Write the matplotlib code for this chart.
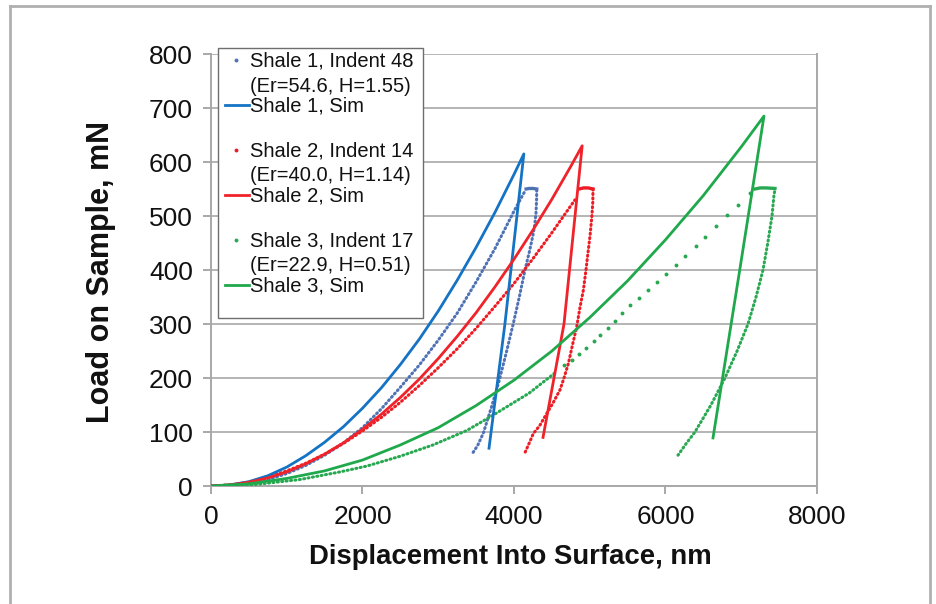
import matplotlib
matplotlib.use('Agg')
import matplotlib.pyplot as plt
from matplotlib.lines import Line2D
from matplotlib.patches import Rectangle

plt.rcParams['font.family'] = ['Liberation Sans', 'DejaVu Sans']

# ---------------- data ----------------
# Shale 1
s1_sim_load_x = [0, 250, 500, 750, 1000, 1250, 1500, 1750, 2000, 2250, 2500, 2750, 3000,
                 3250, 3500, 3750, 4000, 4130]
s1_sim_load_y = [0, 2, 8, 19, 35, 56, 81, 110, 144, 182, 225, 272, 324,
                 381, 442, 507, 577, 615]
s1_sim_unload_x = [4130, 3880, 3670]
s1_sim_unload_y = [615, 300, 70]
s1_exp_load_x = [0, 250, 500, 750, 1000, 1250, 1500, 1750, 2000, 2250, 2500, 2750, 3000,
                 3250, 3500, 3750, 4000, 4140]
s1_exp_load_y = [0, 1, 5, 12, 23, 38, 57, 80, 108, 143, 183, 224, 270,
                 320, 378, 440, 509, 545]
s1_exp_hold_x = [4160, 4200, 4250, 4300]
s1_exp_hold_y = [550, 551, 551, 550]
s1_exp_unload_x = [4300, 4298, 4290, 4275, 4251, 4205, 4145, 4070, 3991, 3900, 3806, 3700,
                   3595, 3520, 3450]
s1_exp_unload_y = [548, 530, 505, 485, 465, 435, 400, 350, 301, 248, 196, 145,
                   98, 75, 60]

# Shale 2
s2_sim_load_x = [0, 250, 500, 750, 1000, 1250, 1500, 1750, 2000, 2250, 2500, 2750, 3000,
                 3250, 3500, 3750, 4000, 4250, 4500, 4750, 4900]
s2_sim_load_y = [0, 2, 7, 15, 26, 41, 59, 80, 105, 133, 164, 198, 236,
                 277, 321, 369, 420, 474, 531, 592, 630]
s2_sim_unload_x = [4900, 4660, 4383]
s2_sim_unload_y = [630, 300, 90]
s2_exp_load_x = [0, 250, 500, 750, 1000, 1250, 1500, 1750, 2000, 2250, 2500, 2750, 3000,
                 3250, 3500, 3750, 4000, 4250, 4500, 4805]
s2_exp_load_y = [0, 2, 7, 16, 28, 42, 59, 79, 102, 127, 155, 186, 219,
                 254, 292, 333, 375, 421, 469, 530]
s2_exp_hold_x = [4860, 4920, 4980, 5043]
s2_exp_hold_y = [550, 552, 552, 550]
s2_exp_unload_x = [5043, 5040, 5028, 5005, 4981, 4950, 4916, 4870, 4828, 4770, 4718, 4660,
                   4607, 4520, 4431, 4340, 4255, 4190, 4136]
s2_exp_unload_y = [550, 525, 500, 465, 437, 400, 363, 330, 295, 260, 227, 200,
                   178, 155, 134, 112, 97, 76, 59]

# Shale 3
s3_sim_load_x = [0, 500, 1000, 1500, 2000, 2500, 3000, 3500, 4000, 4500, 5000, 5500,
                 6000, 6500, 7000, 7300]
s3_sim_load_y = [0, 4, 14, 28, 48, 76, 108, 149, 196, 250, 312, 380,
                 456, 538, 628, 685]
s3_sim_unload_x = [7300, 6980, 6627]
s3_sim_unload_y = [685, 400, 89]
s3_exp_dense_x = [0, 600, 1175, 1700, 2060, 2495, 2930, 3380, 3710, 4200, 4564]
s3_exp_dense_y = [0, 3, 12, 26, 37, 55, 76, 103, 130, 172, 212]
s3_exp_sparse_x = [4660, 4760, 4860, 4955, 5050, 5140, 5235, 5330, 5422, 5531, 5654, 5765,
                   5884, 6007, 6135, 6262, 6403, 6526, 6667, 6816, 6957, 7116]
s3_exp_sparse_y = [224, 234, 245, 256, 268, 280, 292, 305, 320, 335, 349, 363,
                   378, 393, 410, 426, 444, 462, 481, 501, 520, 542]
s3_exp_hold_x = [7181, 7250, 7330, 7445]
s3_exp_hold_y = [550, 552, 552, 551]
s3_exp_unload_x = [7440, 7432, 7406, 7350, 7287, 7195, 7089, 6945, 6785, 6600, 6389, 6270,
                   6165]
s3_exp_unload_y = [545, 539, 500, 450, 400, 350, 300, 250, 200, 150, 100, 78, 57]

x_ticks = [0, 2000, 4000, 6000, 8000]
y_ticks = [0, 100, 200, 300, 400, 500, 600, 700, 800]

legend_labels = ["Shale 1, Indent 48", "(Er=54.6, H=1.55)", "Shale 1, Sim",
                 "Shale 2, Indent 14", "(Er=40.0, H=1.14)", "Shale 2, Sim",
                 "Shale 3, Indent 17", "(Er=22.9, H=0.51)", "Shale 3, Sim"]

# colours
c_blue_sim = '#1473c4'
c_blue_exp = '#4f72b4'
c_red_sim = '#f0222a'
c_red_exp = '#ec1c24'
c_green_sim = '#1fa84c'
c_green_exp = '#27a851'

# ---------------- figure ----------------
W, H = 937, 604
fig = plt.figure(figsize=(W / 100, H / 100), dpi=100)


def fx(px):
    return px / W


def fy(py):
    return 1 - py / H


ax = fig.add_axes([fx(211), fy(486), fx(817) - fx(211), fy(54) - fy(486)])

dot_style = dict(linestyle=(0, (0.35, 1.1)), lw=2.2, dash_capstyle='round')


def exp_curve(load_x, load_y, hold_x, hold_y, un_x, un_y, color):
    ax.plot(load_x, load_y, color=color, **dot_style, zorder=3)
    ax.plot(hold_x, hold_y, color=color, lw=2.4, zorder=3)
    ax.plot(un_x, un_y, color=color, **dot_style, zorder=3)


exp_curve(s1_exp_load_x, s1_exp_load_y, s1_exp_hold_x, s1_exp_hold_y,
          s1_exp_unload_x, s1_exp_unload_y, c_blue_exp)
exp_curve(s2_exp_load_x, s2_exp_load_y, s2_exp_hold_x, s2_exp_hold_y,
          s2_exp_unload_x, s2_exp_unload_y, c_red_exp)
ax.plot(s3_exp_dense_x, s3_exp_dense_y, color=c_green_exp, **dot_style, zorder=3)
ax.plot(s3_exp_sparse_x, s3_exp_sparse_y, color=c_green_exp, linestyle='none',
        marker='o', markersize=2.8, markeredgewidth=0, zorder=3)
ax.plot(s3_exp_hold_x, s3_exp_hold_y, color=c_green_exp, lw=2.4, zorder=3)
ax.plot(s3_exp_unload_x, s3_exp_unload_y, color=c_green_exp, **dot_style, zorder=3)

# simulations (solid)
ax.plot(s1_sim_load_x + s1_sim_unload_x[1:], s1_sim_load_y + s1_sim_unload_y[1:],
        color=c_blue_sim, lw=2.0, zorder=4)
ax.plot(s2_sim_load_x + s2_sim_unload_x[1:], s2_sim_load_y + s2_sim_unload_y[1:],
        color=c_red_sim, lw=2.0, zorder=4)
ax.plot(s3_sim_load_x + s3_sim_unload_x[1:], s3_sim_load_y + s3_sim_unload_y[1:],
        color=c_green_sim, lw=2.0, zorder=4)

ax.set_xlim(0, 8000)
ax.set_ylim(0, 800)
ax.set_xticks(x_ticks)
ax.set_yticks(y_ticks)
ax.yaxis.grid(True, color='#b4b4b4', lw=1.4)
ax.xaxis.grid(False)
ax.set_axisbelow(True)
for side in ['left', 'bottom', 'right']:
    ax.spines[side].set_color('#a8a8a8')
    ax.spines[side].set_linewidth(1.4)
ax.spines['top'].set_visible(False)
ax.tick_params(axis='both', direction='out', length=6, width=1.4, color='#a8a8a8',
               labelsize=19, labelcolor='#111111')
ax.tick_params(axis='y', pad=7)
ax.tick_params(axis='x', pad=8)

fig.text(fx(510), fy(557), 'Displacement Into Surface, nm', ha='center', va='center',
         fontsize=19.8, fontweight='bold', color='#111111')
fig.text(fx(101), fy(272), 'Load on Sample, mN', ha='center', va='center', rotation=90,
         fontsize=22, fontweight='bold', color='#111111')

# ---------------- legend (manual) ----------------
fig.add_artist(Rectangle((fx(218), fy(318)), fx(423) - fx(218), fy(48) - fy(318),
                         transform=fig.transFigure, facecolor='white', edgecolor='#6e6e6e',
                         lw=1.0, zorder=10))
rows_y = [61, 86, 106, 151, 176, 196, 241, 266, 286]
cols = [(c_blue_exp, c_blue_sim), (c_red_exp, c_red_sim), (c_green_exp, c_green_sim)]
for i, (lab, yy) in enumerate(zip(legend_labels, rows_y)):
    fig.text(fx(250), fy(yy), lab, ha='left', va='center', fontsize=14.5, color='#111111',
             zorder=11)
    grp, kind = divmod(i, 3)
    if kind == 0:
        fig.add_artist(Line2D([fx(236)], [fy(yy - 1)], transform=fig.transFigure, marker='o',
                              markersize=2.8, markeredgewidth=0, color=cols[grp][0], zorder=11))
    elif kind == 2:
        fig.add_artist(Line2D([fx(225), fx(249)], [fy(yy - 1), fy(yy - 1)],
                              transform=fig.transFigure, lw=2.0, color=cols[grp][1], zorder=11))

# outer frame
for xs, ys in [([10, 10], [6, 620]), ([10, 930], [6, 6]), ([930, 930], [6, 620])]:
    fig.add_artist(Line2D([fx(v) for v in xs], [fy(v) for v in ys], transform=fig.transFigure,
                          lw=2.0, color='#b0b0b0', zorder=0))

fig.savefig('out.png', dpi=100)
